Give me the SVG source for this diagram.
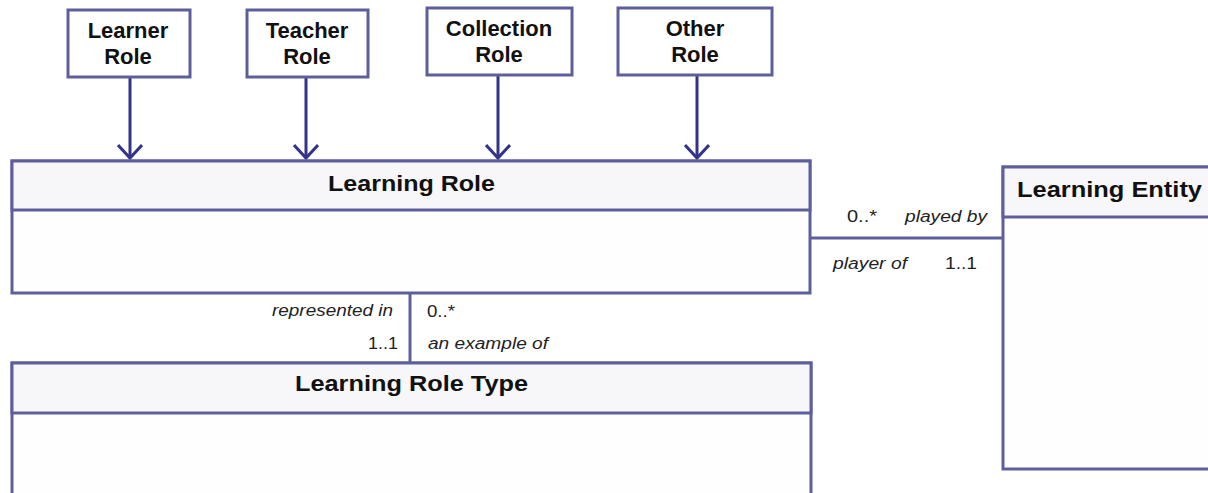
<svg xmlns="http://www.w3.org/2000/svg" width="1208" height="493" viewBox="0 0 1208 493">
<style>
.box{fill:#fefefe;stroke:#5e5e9c;stroke-width:3}
.hdr{fill:#f7f7f9;stroke:#5e5e9c;stroke-width:3}
.small{fill:#ffffff;stroke:#5e5e9c;stroke-width:3}
.t{font-family:"Liberation Sans",Arial,sans-serif;font-weight:bold;fill:#111}
.mid{text-anchor:middle}
.st{font-size:22px}
.bt{font-size:22px}
.lbl{font-family:"Liberation Sans",Arial,sans-serif;font-size:16px;fill:#222}
.it{font-style:italic}
.conn{stroke:#5e5e9c;stroke-width:3;fill:none}
.gen{stroke:#33338a;stroke-width:3;fill:none}
</style>
<defs>
<marker id="open" viewBox="0 0 30 26" refX="14" refY="13" markerWidth="30" markerHeight="26" markerUnits="userSpaceOnUse" orient="auto">
<path d="M1,1 L14,13 L1,25" fill="none" stroke="#33338a" stroke-width="3"/>
</marker>
</defs>
<rect width="1208" height="493" fill="#ffffff"/>
<g id="connectors">
<line class="gen" x1="130" y1="77" x2="130" y2="158" marker-end="url(#open)"/>
<line class="gen" x1="306" y1="77" x2="306" y2="158" marker-end="url(#open)"/>
<line class="gen" x1="498" y1="75" x2="498" y2="158" marker-end="url(#open)"/>
<line class="gen" x1="697" y1="75" x2="697" y2="158" marker-end="url(#open)"/>
<line class="conn" x1="810" y1="238" x2="1003" y2="238"/>
<line class="conn" x1="410" y1="293" x2="410" y2="363"/>
<text class="lbl" x="847" y="222" textLength="30" lengthAdjust="spacingAndGlyphs">0..*</text>
<text class="lbl it" x="905" y="222" textLength="82" lengthAdjust="spacingAndGlyphs">played by</text>
<text class="lbl it" x="833" y="269" textLength="74" lengthAdjust="spacingAndGlyphs">player of</text>
<text class="lbl" x="945" y="269" textLength="32" lengthAdjust="spacingAndGlyphs">1..1</text>
<text class="lbl it" x="272" y="316" textLength="121" lengthAdjust="spacingAndGlyphs">represented in</text>
<text class="lbl" x="427" y="317" textLength="28" lengthAdjust="spacingAndGlyphs">0..*</text>
<text class="lbl" x="368" y="349" textLength="30" lengthAdjust="spacingAndGlyphs">1..1</text>
<text class="lbl it" x="428" y="349" textLength="120" lengthAdjust="spacingAndGlyphs">an example of</text>
</g>
<g id="learner-role">
<rect class="small" x="68" y="10" width="122" height="67"/>
<text class="t st mid" x="128" y="38">Learner</text>
<text class="t st mid" x="128" y="64">Role</text>
</g>
<g id="teacher-role">
<rect class="small" x="247" y="10" width="121" height="67"/>
<text class="t st mid" x="307" y="38">Teacher</text>
<text class="t st mid" x="307" y="64">Role</text>
</g>
<g id="collection-role">
<rect class="small" x="427" y="8" width="145" height="67"/>
<text class="t st mid" x="499" y="36">Collection</text>
<text class="t st mid" x="499" y="62">Role</text>
</g>
<g id="other-role">
<rect class="small" x="618" y="8" width="154" height="67"/>
<text class="t st mid" x="695" y="36">Other</text>
<text class="t st mid" x="695" y="62">Role</text>
</g>
<g id="learning-role">
<rect class="box" x="12" y="161" width="798" height="132"/>
<rect class="hdr" x="12" y="161" width="798" height="49"/>
<text class="t bt" x="328" y="191" textLength="167" lengthAdjust="spacingAndGlyphs">Learning Role</text>
</g>
<g id="learning-role-type">
<rect class="box" x="12" y="363" width="799" height="140"/>
<rect class="hdr" x="12" y="363" width="799" height="50"/>
<text class="t bt" x="295" y="391" textLength="233" lengthAdjust="spacingAndGlyphs">Learning Role Type</text>
</g>
<g id="learning-entity">
<rect class="box" x="1003" y="167" width="215" height="302"/>
<rect class="hdr" x="1003" y="167" width="215" height="50"/>
<text class="t bt" x="1017" y="197" textLength="185" lengthAdjust="spacingAndGlyphs">Learning Entity</text>
</g>
</svg>
